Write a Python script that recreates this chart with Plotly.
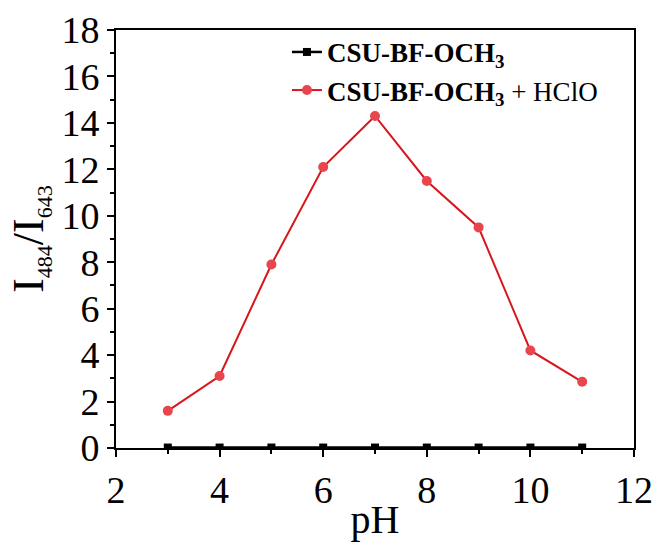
import plotly.graph_objects as go

ph = [3, 4, 5, 6, 7, 8, 9, 10, 11]
probe = [0.02, 0.02, 0.02, 0.02, 0.02, 0.02, 0.02, 0.02, 0.02]
probe_hclo = [1.6, 3.1, 7.9, 12.1, 14.3, 11.5, 9.5, 4.2, 2.85]
xticks = [2, 4, 6, 8, 10, 12]
yticks = [0, 2, 4, 6, 8, 10, 12, 14, 16, 18]

font = "Liberation Serif, Times New Roman, serif"

fig = go.Figure()
fig.add_trace(go.Scatter(
    x=ph, y=probe, mode="lines+markers",
    name="<b>CSU-BF-OCH<sub>3</sub></b>", legendgroup="a",
    line=dict(color="black", width=2.5),
    marker=dict(symbol="square", size=8, color="black"),
))
fig.add_trace(go.Scatter(
    x=ph, y=probe_hclo, mode="lines+markers",
    name="<b>CSU-BF-OCH<sub>3</sub></b> + HClO", legendgroup="b",
    line=dict(color="#d8161c", width=2),
    marker=dict(symbol="circle", size=10, color="#e8454d"),
))

axis_common = dict(
    showline=True, linecolor="black", linewidth=2, mirror=True,
    ticks="outside", tickwidth=2, ticklen=7, tickcolor="black",
    showgrid=False, zeroline=False, automargin=False,
    tickfont=dict(family=font, size=38, color="black"),
)
fig.update_xaxes(
    range=[2, 12], tickvals=xticks,
    minor=dict(ticks="outside", ticklen=4, tickwidth=2, tickcolor="black", dtick=1),
    title=dict(text="pH", font=dict(family=font, size=40, color="black"), standoff=2),
    **axis_common,
)
fig.update_yaxes(
    range=[0, 18], tickvals=yticks,
    minor=dict(ticks="outside", ticklen=4, tickwidth=2, tickcolor="black", dtick=1),
    title=dict(
        text="I<sub><span style='font-size:22px'>484</span></sub>/I<sub><span style='font-size:22px'>643</span></sub>",
        font=dict(family=font, size=44, color="black"), standoff=4),
    **axis_common,
)
fig.update_layout(
    width=655, height=542,
    margin=dict(l=116, r=21, t=30, b=94),
    plot_bgcolor="white", paper_bgcolor="white",
    showlegend=True,
    legend=dict(
        x=0.33, y=1.005, xanchor="left", yanchor="top",
        font=dict(family=font, size=27, color="black"),
        bgcolor="rgba(0,0,0,0)", tracegroupgap=0,
    ),
)
fig.write_html("out.html")
